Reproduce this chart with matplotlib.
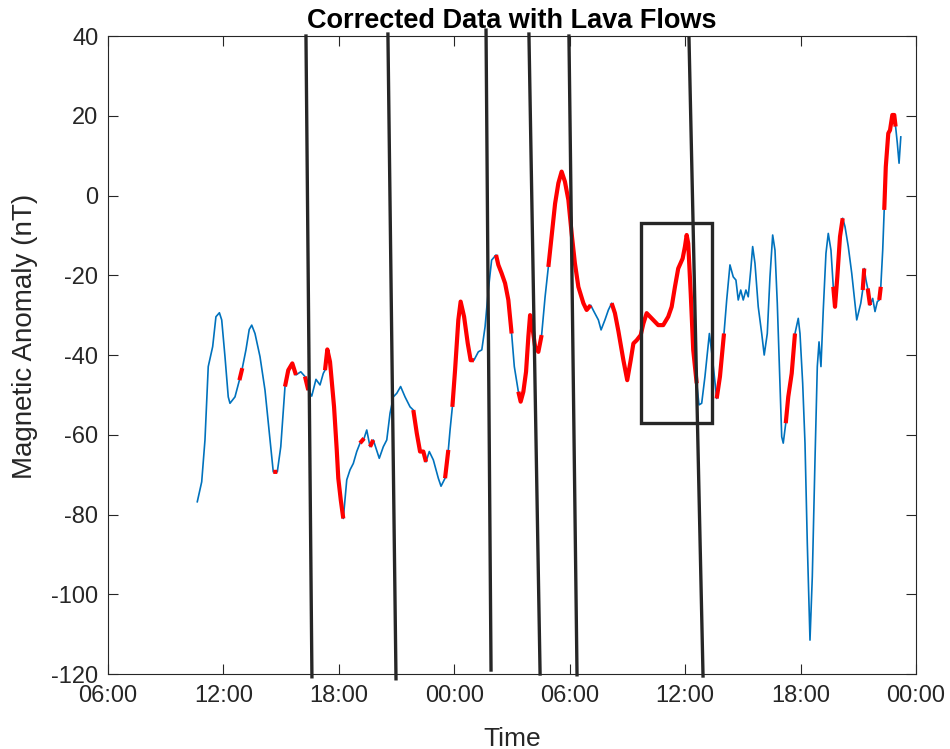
import numpy as np
import matplotlib
matplotlib.use("Agg")
import matplotlib.pyplot as plt
from matplotlib.patches import Rectangle

# time in hours since midnight of the first day
hours = [
    10.64, 10.87, 11.04, 11.21, 11.44, 11.61, 11.79, 11.91, 12.08, 12.25,
    12.34, 12.60, 12.83, 12.98, 13.17, 13.34, 13.47, 13.64, 13.90, 14.16,
    14.42, 14.59, 14.80, 14.98, 15.20, 15.37, 15.58, 15.77, 16.02, 16.24,
    16.41, 16.59, 16.81, 17.02, 17.19, 17.28, 17.40, 17.54, 17.75, 17.89,
    17.97, 18.10, 18.23, 18.41, 18.58, 18.75, 18.93, 19.10, 19.31, 19.45,
    19.62, 19.79, 20.10, 20.31, 20.49, 20.66, 20.83, 21.01, 21.21, 21.44,
    21.70, 21.87, 22.05, 22.22, 22.39, 22.53, 22.70, 22.91, 23.17, 23.31,
    23.52, 23.69, 23.78, 23.90, 24.04, 24.21, 24.33, 24.51, 24.70, 24.85,
    25.02, 25.25, 25.43, 25.60, 25.77, 25.94, 26.17, 26.29, 26.46, 26.64,
    26.81, 26.98, 27.12, 27.33, 27.45, 27.59, 27.73, 27.85, 27.94, 28.08,
    28.20, 28.37, 28.54, 28.72, 28.89, 29.06, 29.24, 29.41, 29.58, 29.75,
    29.93, 30.10, 30.27, 30.45, 30.71, 30.88, 31.09, 31.26, 31.49, 31.63,
    31.83, 32.01, 32.18, 32.35, 32.53, 32.79, 32.99, 33.17, 33.31, 33.48,
    33.69, 33.83, 34.00, 34.26, 34.60, 34.86, 35.12, 35.30, 35.47, 35.64,
    35.87, 35.99, 36.08, 36.16, 36.29, 36.42, 36.60, 36.72, 36.86, 37.03,
    37.26, 37.43, 37.64, 37.81, 38.02, 38.16, 38.33, 38.50, 38.64, 38.76,
    38.89, 39.02, 39.16, 39.28, 39.41, 39.51, 39.63, 39.80, 39.98, 40.11,
    40.27, 40.41, 40.55, 40.67, 40.79, 40.89, 41.02, 41.10, 41.23, 41.36,
    41.54, 41.71, 41.88, 41.97, 42.11, 42.23, 42.35, 42.49, 42.61, 42.75,
    42.87, 42.96, 43.06, 43.18, 43.32, 43.44, 43.58, 43.70, 43.79, 43.91,
    44.05, 44.19, 44.31, 44.48, 44.66, 44.83, 44.92, 45.13, 45.23, 45.31,
    45.40, 45.49, 45.61, 45.75, 45.87, 45.99, 46.09, 46.17, 46.27, 46.35,
    46.43, 46.56, 46.65, 46.77, 46.87, 46.94, 47.03, 47.12, 47.21,
]
anomaly = [
    -76.8, -71.8, -61.3, -42.9, -37.9, -30.4, -29.4, -31.2, -40.4, -50.5,
    -52.1, -50.5, -46.3, -43.3, -38.7, -33.6, -32.5, -34.6, -40.4, -48.8,
    -61.3, -69.3, -69.3, -63.0, -47.9, -43.8, -42.1, -45.0, -44.2, -45.4,
    -48.8, -50.3, -46.1, -47.5, -44.6, -43.8, -38.6, -41.7, -53.0, -63.8,
    -70.9, -76.4, -81.0, -71.3, -68.8, -67.2, -64.2, -62.1, -60.9, -58.8,
    -63.0, -61.3, -65.9, -63.0, -61.3, -54.6, -50.5, -49.6, -47.9, -50.5,
    -53.0, -53.8, -59.6, -64.2, -64.2, -66.8, -64.2, -66.3, -70.9, -72.9,
    -70.9, -63.8, -58.8, -53.0, -43.8, -31.2, -26.6, -30.4, -37.1, -41.3,
    -41.3, -39.2, -38.7, -32.9, -23.7, -16.2, -14.9, -17.4, -19.5, -22.0,
    -26.2, -34.6, -42.9, -49.2, -51.7, -49.2, -44.2, -35.4, -30.0, -33.7,
    -37.9, -39.2, -35.0, -25.4, -17.9, -10.3, -2.0, 3.1, 6.0, 3.5,
    -1.1, -9.5, -17.0, -22.9, -27.0, -28.7, -27.5, -29.1, -31.2, -33.7,
    -31.2, -28.7, -27.0, -29.5, -34.0, -41.3, -46.3, -41.3, -37.1, -36.3,
    -35.0, -32.1, -29.5, -30.8, -32.5, -32.5, -30.4, -27.9, -22.9, -18.3,
    -15.8, -12.8, -9.9, -12.0, -24.5, -38.7, -47.1, -52.5, -52.1, -45.4,
    -34.6, -41.3, -50.9, -45.4, -34.6, -26.2, -17.4, -20.4, -21.2, -26.2,
    -23.7, -26.2, -23.7, -25.4, -18.7, -12.8, -17.0, -27.9, -34.6, -40.0,
    -34.6, -20.4, -9.9, -13.7, -27.0, -41.3, -60.5, -62.1, -57.1, -50.5,
    -44.6, -34.6, -30.8, -34.6, -47.1, -62.1, -87.2, -111.5, -95.6, -66.3,
    -42.9, -36.7, -42.9, -28.7, -14.5, -9.5, -13.7, -22.9, -27.9, -20.4,
    -10.3, -5.7, -7.8, -12.8, -19.5, -27.0, -31.2, -27.0, -23.7, -18.3,
    -21.2, -23.3, -27.5, -25.8, -29.1, -26.6, -26.2, -22.9, -13.7, -3.6,
    7.2, 15.6, 16.4, 20.2, 20.2, 17.3, 13.1, 8.1, 14.7,
]
# 1 where the sample lies over a lava flow
lava = [
    0, 0, 0, 0, 0, 0, 0, 0, 0, 0,
    0, 0, 1, 1, 0, 0, 0, 0, 0, 0,
    0, 1, 1, 0, 1, 1, 1, 1, 0, 1,
    1, 0, 0, 0, 0, 1, 1, 1, 1, 1,
    1, 1, 1, 0, 0, 0, 0, 1, 1, 0,
    1, 1, 0, 0, 0, 0, 0, 0, 0, 0,
    0, 1, 1, 1, 1, 1, 0, 0, 0, 0,
    1, 1, 0, 1, 1, 1, 1, 1, 1, 1,
    1, 0, 0, 0, 0, 0, 1, 1, 1, 1,
    1, 1, 0, 1, 1, 1, 1, 1, 1, 1,
    1, 1, 1, 0, 1, 1, 1, 1, 1, 1,
    1, 1, 1, 1, 1, 1, 1, 0, 0, 0,
    0, 0, 1, 1, 1, 1, 1, 1, 1, 1,
    1, 1, 1, 1, 1, 1, 1, 1, 1, 1,
    1, 1, 1, 1, 1, 1, 1, 0, 0, 0,
    0, 0, 1, 1, 1, 0, 0, 0, 0, 0,
    0, 0, 0, 0, 0, 0, 0, 0, 0, 0,
    0, 0, 0, 0, 0, 0, 0, 0, 1, 1,
    1, 1, 0, 0, 0, 0, 0, 0, 0, 0,
    0, 0, 0, 0, 0, 0, 0, 1, 1, 1,
    1, 1, 0, 0, 0, 0, 0, 0, 1, 1,
    0, 1, 1, 0, 0, 0, 1, 1, 0, 1,
    1, 1, 1, 1, 1, 1, 0, 0, 0,
]

# flow boundary lines: (hour, nT) at top and bottom
flow_top_h = [16.29, 20.55, 25.65, 27.88, 29.96, 36.20]
flow_top_v = [40.0, 40.5, 41.5, 40.5, 40.0, 39.5]
flow_bot_h = [16.60, 20.97, 25.91, 28.46, 30.38, 36.93]
flow_bot_v = [-120.7, -121.2, -119.0, -120.0, -120.2, -120.5]

# highlighted box
box_h = (33.71, 37.40)
box_v = (-57.0, -7.0)

tick_hours = [6, 12, 18, 24, 30, 36, 42, 48]
tick_labels = ["06:00", "12:00", "18:00", "00:00", "06:00", "12:00", "18:00", "00:00"]

plt.rcParams["font.family"] = ["Liberation Sans", "DejaVu Sans"]
plt.rcParams["axes.unicode_minus"] = False

fig = plt.figure(figsize=(9.5, 7.49), dpi=100)
ax = fig.add_axes([0.1137, 0.1001, 0.8505, 0.8518])

t = np.array(hours)
v = np.array(anomaly)
red = np.where(np.array(lava) == 1, v, np.nan)

ax.plot(t, v, color="#0072BD", linewidth=1.2, zorder=2)
ax.plot(t, red, color="#FF0000", linewidth=3.0, zorder=3, solid_capstyle="butt")

dark = "#262626"
for h0, v0, h1, v1 in zip(flow_top_h, flow_top_v, flow_bot_h, flow_bot_v):
    ax.plot([h0, h1], [v0, v1], color=dark, linewidth=2.4, clip_on=False, zorder=4)

ax.add_patch(Rectangle((box_h[0], box_v[0]), box_h[1] - box_h[0], box_v[1] - box_v[0],
                       fill=False, edgecolor=dark, linewidth=2.4, zorder=4))

ax.set_xlim(6, 48)
ax.set_ylim(-120, 40)
ax.set_xticks(tick_hours)
ax.set_xticklabels(tick_labels)
ax.set_yticks(np.arange(-120, 41, 20))

ax.tick_params(direction="in", length=7, width=0.8, colors="#262626",
               labelsize=17, top=True, right=True)
ax.tick_params(axis="x", pad=8)
ax.tick_params(axis="y", pad=7)
for s in ax.spines.values():
    s.set_color("#262626")
    s.set_linewidth(0.8)

ax.set_title("Corrected Data with Lava Flows", fontsize=19.5, fontweight="bold", pad=6)
ax.set_xlabel("Time", fontsize=19, color="#262626", labelpad=14)
ax.set_ylabel("Magnetic Anomaly (nT)", fontsize=20, color="#262626")
ax.yaxis.set_label_coords(-0.087, 0.53)

fig.savefig("out.png", dpi=100)
